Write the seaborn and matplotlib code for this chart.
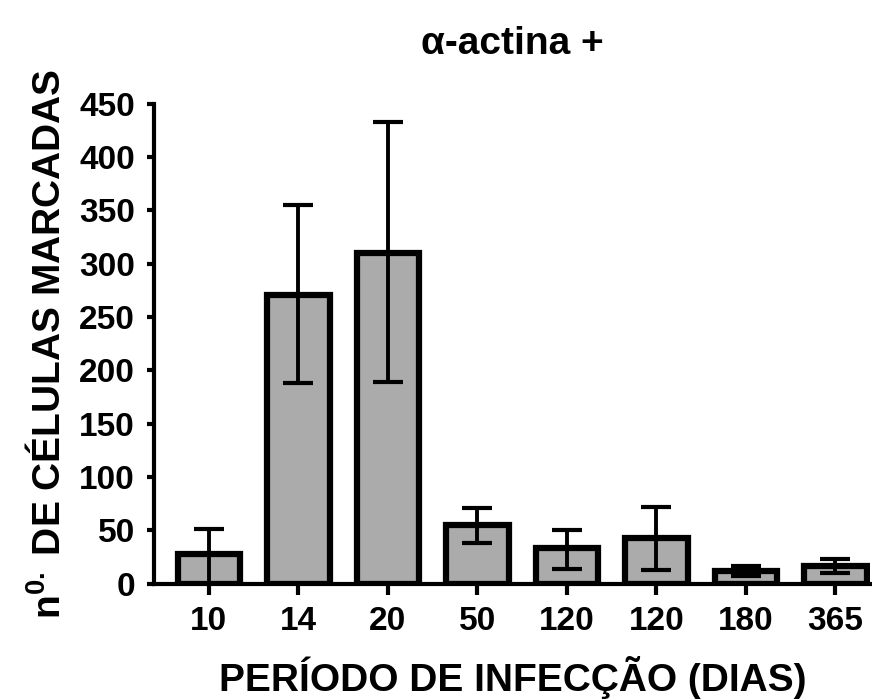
import numpy as np
import pandas as pd
import matplotlib
matplotlib.use("Agg")
import matplotlib.pyplot as plt
import seaborn as sns

days = ["10", "14", "20", "50", "120", "120", "180", "365"]
mean_cells = [28, 271, 310, 55, 34, 43, 12, 17]
upper_err = [23, 84, 123, 16, 16, 29, 5, 6]
lower_err = [28, 83, 121, 17, 20, 30, 5, 7]

sns.set_style("ticks")
plt.rcParams["font.family"] = ["Liberation Sans", "DejaVu Sans"]
plt.rcParams["mathtext.fontset"] = "custom"
plt.rcParams["mathtext.rm"] = "Liberation Sans:bold"
plt.rcParams["mathtext.bf"] = "Liberation Sans:bold"
for key in ["text.color", "axes.labelcolor", "xtick.color", "ytick.color", "axes.edgecolor"]:
    plt.rcParams[key] = "black"

df = pd.DataFrame({"pos": np.arange(len(days)), "cells": mean_cells})

fig = plt.figure(figsize=(8.72, 7.0), dpi=100)
ax = fig.add_axes([0.177, 0.166, 0.821, 0.686])

sns.barplot(data=df, x="pos", y="cells", color="#ababab", saturation=1,
            width=0.7, edgecolor="black", linewidth=4.5, errorbar=None, ax=ax)

ax.errorbar(df["pos"], df["cells"], yerr=[lower_err, upper_err], fmt="none",
            ecolor="black", elinewidth=2.8, capsize=11, capthick=3, zorder=5)

ax.set_ylim(0, 450)
ax.set_xlim(-0.61, 7.39)
ax.set_yticks(np.arange(0, 451, 50))
ax.set_xticks(range(len(days)))
ax.set_xticklabels(days)

sns.despine(ax=ax)
for side in ["left", "bottom"]:
    ax.spines[side].set_linewidth(3)
ax.tick_params(axis="y", length=5, width=3, labelsize=24, pad=9)
ax.tick_params(axis="x", length=8, width=3, labelsize=24, pad=8)
for lab in ax.get_xticklabels() + ax.get_yticklabels():
    lab.set_fontweight("bold")

ax.set_xlabel("PERÍODO DE INFECÇÃO (DIAS)", fontsize=28, fontweight="bold", labelpad=14)
ax.set_ylabel(r"n$^{0.}$ DE CÉLULAS MARCADAS", fontsize=28, fontweight="bold", labelpad=8)
ax.set_title("α-actina +", fontsize=28, fontweight="bold", pad=36)

fig.savefig("out.png", dpi=100)
